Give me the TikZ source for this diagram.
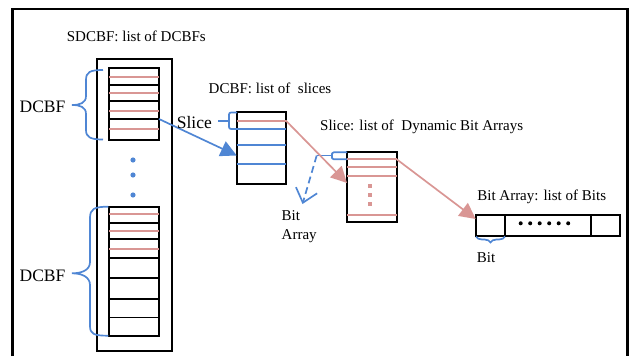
\documentclass[tikz,border=0pt]{standalone}
\usepackage{fontspec}
\setmainfont{Liberation Serif}
\usetikzlibrary{arrows.meta,decorations.pathreplacing}
\definecolor{slicepink}{RGB}{217,150,148}
\definecolor{bracketblue}{RGB}{79,134,212}

\begin{document}
\begin{tikzpicture}[
    x=1pt, y=-1pt,
    listbox/.style={rectangle, draw=black, line width=2pt, inner sep=0pt},
    frameline/.style={black, line width=2.2pt},
    cellline/.style={black, line width=1.8pt},
    pinkline/.style={slicepink, line width=1.7pt},
    blueline/.style={bracketblue, line width=1.7pt},
    listtitle/.style={font=\fontsize{15}{18}\selectfont, inner sep=0pt},
    sidetext/.style={font=\fontsize{17.5}{20}\selectfont, inner sep=0pt},
    bluearr/.style={-{Triangle[length=16pt,width=16pt]}, bracketblue, line width=1.7pt},
    pinkarr/.style={-{Triangle[length=16pt,width=16pt]}, slicepink, line width=1.7pt}
  ]
    \useasboundingbox (0,0) rectangle (629,356);
    \draw[frameline] (12.5,356) |- (627.5,9) -- (627.5,356);

    % boxes
    \node[listbox, minimum width=75pt, minimum height=292pt] (sdcbf) at (134.5,205) {};
    \node[listbox, minimum width=49.5pt, minimum height=72pt] (dcbfa) at (133.75,104) {};
    \node[listbox, minimum width=49.5pt, minimum height=129.3pt] (dcbfb) at (133.75,271.35) {};
    \node[listbox, minimum width=49.3pt, minimum height=72pt] (slices) at (261.35,148.3) {};
    \node[listbox, minimum width=49.4pt, minimum height=70.6pt] (arrays) at (372,187) {};
    \node[listbox, minimum width=144.3pt, minimum height=20.7pt] (bits) at (547.85,225.35) {};

    % cells
    \foreach \y in {77,93,111,129} \draw[pinkline] (109,\y) -- (158.5,\y);
    \foreach \y in {85,101,119} \draw[cellline] (109,\y) -- (158.5,\y);
    \foreach \y in {214.3,231.2,249.2} \draw[pinkline] (109,\y) -- (158.5,\y);
    \foreach \y in {223,239,258.3,278.3,299.2,317.5} \draw[cellline] (109,\y) -- (158.5,\y);
    \draw[pinkline] (236.7,120.7) -- (286,120.7);
    \foreach \y in {128.7,145,164.3} \draw[blueline] (236.7,\y) -- (286,\y);
    \foreach \y in {159.3,166.7,175.7,215} \draw[pinkline] (347.3,\y) -- (396.7,\y);
    \foreach \y in {186,195,204} \fill[slicepink] (367.6,\y-2.4) rectangle +(4.8,4.8);
    \foreach \x in {505,590.7} \draw[cellline] (\x,215) -- (\x,235.7);
    \foreach \i in {0,...,5} \fill (520.7+9.5*\i,223.3) circle (2pt);
    \foreach \y in {160,175,195} \fill[bracketblue] (133,\y) circle (2.6pt);

    % braces
    \draw[blueline] (103,70) .. controls (90,70) and (86,72) .. (86,80) -- (86,96)
      .. controls (86,103) and (80,105) .. (72,105) .. controls (80,105) and (86,107) .. (86,114)
      -- (86,130) .. controls (86,137) and (90,139.5) .. (103,139.5);
    \draw[blueline] (108.3,206.7) .. controls (94,206.7) and (90,209) .. (90,218) -- (90,262)
      .. controls (90,270) and (82,273.3) .. (72,273.3) .. controls (82,273.3) and (90,277) .. (90,285)
      -- (90,326) .. controls (90,334) and (94,335.7) .. (108.3,335.7);
    \draw[blueline, rounded corners=2pt] (237,112.5) -| (229,120.7) |- (237,129);
    \draw[blueline] (229,120.7) -- (218.3,120.7);
    \draw[blueline, rounded corners=2pt] (347,152.3) -| (332,155.5) |- (347,159.3);
    \draw[blueline] (332,155.5) -- (316.7,155.5);
    \draw[blueline, decorate, decoration={brace, amplitude=6pt}] (505,236.5) -- (476,236.5);

    % connectors
    \coordinate (dcbfout) at (159,119);
    \coordinate (slicesin) at (236.7,155.5);
    \coordinate (slicesout) at (286,120.7);
    \coordinate (arraysin) at (347,183);
    \coordinate (arraysout) at (396.7,159.3);
    \coordinate (bitsin) at (475.7,219);
    \coordinate (stemend) at (316.7,155.5);
    \coordinate (bitarrayend) at (302.5,204);
    \draw[bluearr] (dcbfout) -- (slicesin);
    \draw[pinkarr] (slicesout) -- (arraysin);
    \draw[pinkarr] (arraysout) -- (bitsin);
    \draw[blueline, dash pattern=on 7pt off 4pt, -{Straight Barb[length=13pt,width=22pt]}] (stemend) -- (bitarrayend);

    % texts
    \node[listtitle] (sdcbftitle) at (136.3,36) {SDCBF: list of DCBFs};
    \node[listtitle] (dcbftitle) at (270,88) {DCBF: list of\ \ slices};
    \node[listtitle, anchor=west] (slicetitle) at (320,127) {Slice: list of\ \ Dynamic Bit Arrays};
    \node[listtitle] (bitstitle) at (541.7,196.7) {Bit Array: list of Bits};
    \node[sidetext] (dcbfalabel) at (42.5,107) {DCBF};
    \node[sidetext] (dcbfblabel) at (42.5,276) {DCBF};
    \node[sidetext, anchor=east] (slicelabel) at (212,123) {Slice};
    \node[listtitle, anchor=west, align=left, font=\fontsize{15}{19}\selectfont] (bitarraylabel) at (281.5,226.5) {Bit\\Array};
    \node[listtitle] (bitlabel) at (486,257.5) {Bit};
  \end{tikzpicture}
\end{document}
